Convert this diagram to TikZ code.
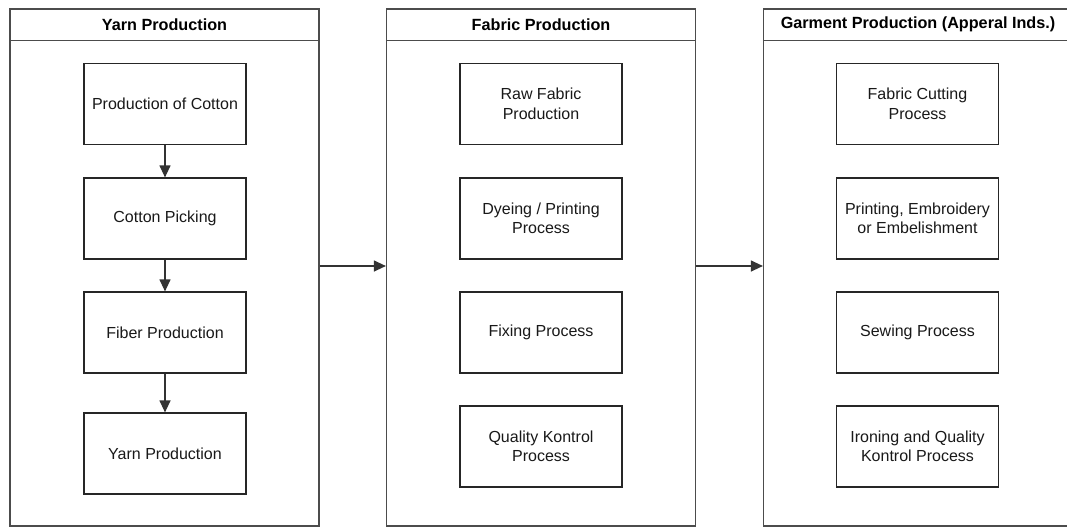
\documentclass[tikz,border=0pt]{standalone}
\usepackage{fontspec}
\setmainfont{Liberation Sans}
\usetikzlibrary{arrows.meta}
\begin{document}
\begin{tikzpicture}[x=1pt,y=-1pt,
  lane/.style={draw=black!70,line width=1.2pt,minimum width=309pt,minimum height=517pt,inner sep=0pt},
  lanehead/.style={font=\bfseries\fontsize{16.2}{18}\selectfont,inner sep=0pt},
  stepbox/.style={draw=black!85,line width=1.2pt,minimum width=162pt,minimum height=81pt,inner sep=2pt,
    align=center,font=\fontsize{16}{19.5}\selectfont,text=black!90},
  flow/.style={draw=black!80,line width=1.2pt,-{Triangle[length=12pt,width=11pt]}}]
\useasboundingbox (0,0) rectangle (1067,527);
\clip (0,0) rectangle (1067,527);
\fill[white] (0,0) rectangle (1067,527);

% swimlanes
\node[lane] (yarn) at (164.5,267.5) {};
\node[lane] (fabric) at (541,267.5) {};
\node[lane] (garment) at (918,267.5) {};
\foreach \l in {yarn,fabric,garment}
  \draw[black!70,line width=1.2pt] ([yshift=-32pt]\l.north west) -- ([yshift=-32pt]\l.north east);
\node[lanehead] at ([yshift=-16pt]yarn.north) {Yarn Production};
\node[lanehead] at ([yshift=-16pt]fabric.north) {Fabric Production};
\node[lanehead] at ([yshift=-16pt]garment.north) {Garment Production (Apperal Inds.)};

% yarn steps
\node[stepbox] (y1) at (165,104) {Production of Cotton};
\node[stepbox] (y2) at (165,218.5) {Cotton Picking};
\node[stepbox] (y3) at (165,332.5) {Fiber Production};
\node[stepbox] (y4) at (165,453.5) {Yarn Production};
\draw[flow] (y1) -- (y2);
\draw[flow] (y2) -- (y3);
\draw[flow] (y3) -- (y4);

% fabric steps
\node[stepbox] (f1) at (541,104) {Raw Fabric\\Production};
\node[stepbox] (f2) at (541,218.5) {Dyeing / Printing\\Process};
\node[stepbox] (f3) at (541,332.5) {Fixing Process};
\node[stepbox] (f4) at (541,446.5) {Quality Kontrol\\Process};

% garment steps
\node[stepbox] (g1) at (917.5,104) {Fabric Cutting\\Process};
\node[stepbox] (g2) at (917.5,218.5) {Printing, Embroidery\\or Embelishment};
\node[stepbox] (g3) at (917.5,332.5) {Sewing Process};
\node[stepbox] (g4) at (917.5,446.5) {Ironing and Quality\\Kontrol Process};

% lane to lane
\draw[flow] ([yshift=1.5pt]yarn.east) -- ([yshift=1.5pt]fabric.west);
\draw[flow] ([yshift=1.5pt]fabric.east) -- ([yshift=1.5pt]garment.west);
\end{tikzpicture}
\end{document}
